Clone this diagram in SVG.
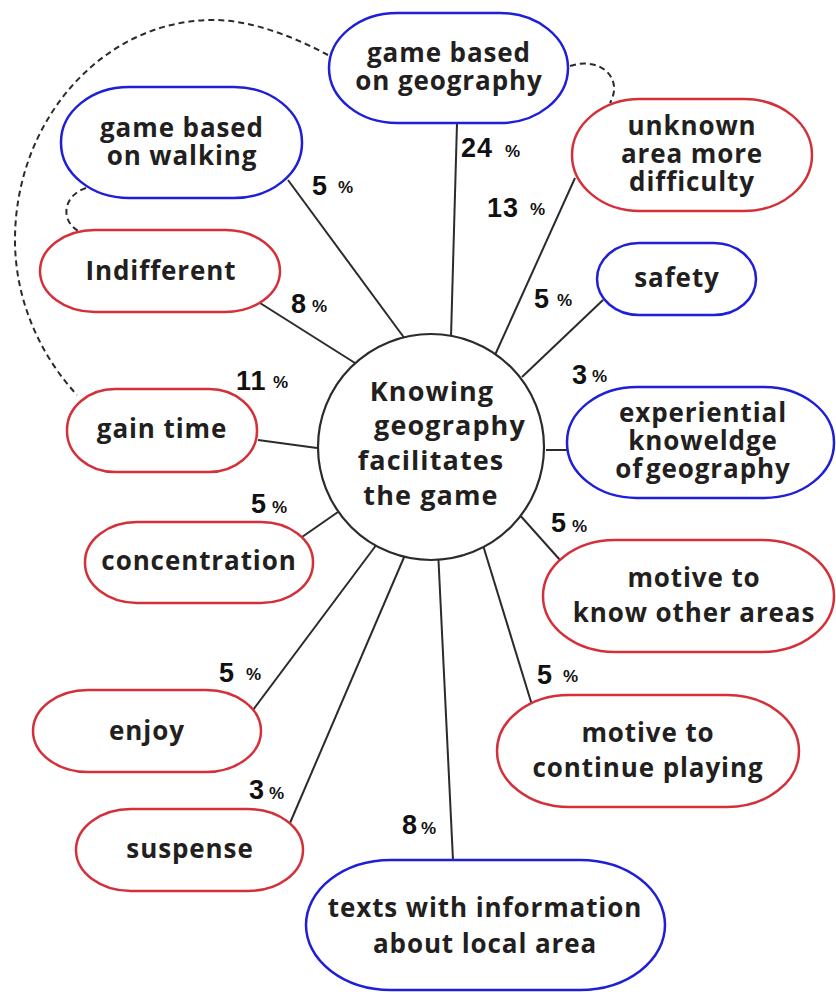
<svg xmlns="http://www.w3.org/2000/svg" width="836" height="992" viewBox="0 0 836 992">
<style>
.bg{fill:#ffffff}
.blue{fill:#ffffff;stroke:#1f1fd8;stroke-width:2.5}
.red{fill:#ffffff;stroke:#d3303a;stroke-width:2.5}
.hub{fill:#ffffff;stroke:#2b2b2b;stroke-width:2.2}
.t{font-family:"Open Sans","Noto Sans","Liberation Sans",sans-serif;font-weight:700;font-size:26px;letter-spacing:0.9px;fill:#231f20;text-anchor:middle}
.ht{font-family:"Open Sans","Noto Sans","Liberation Sans",sans-serif;font-weight:700;font-size:27px;letter-spacing:1.1px;fill:#231f20;text-anchor:middle}
.n{font-family:"Liberation Sans",Arial,sans-serif;font-weight:700;font-size:27px;fill:#111111;letter-spacing:1px}
.p{font-family:"Liberation Sans",Arial,sans-serif;font-weight:700;font-size:17px;fill:#111111}
.c{stroke:#2b2b2b;stroke-width:2;fill:none}
.d{stroke:#2b2b2b;stroke-width:2;fill:none;stroke-dasharray:6 4}
</style>
<rect class="bg" x="0" y="0" width="836" height="992"/>
<g id="connectors">
<line class="c" x1="457" y1="123" x2="451" y2="337"/>
<line class="c" x1="288" y1="180" x2="408" y2="343"/>
<line class="c" x1="260" y1="303" x2="355" y2="363"/>
<line class="c" x1="575" y1="178" x2="495" y2="355"/>
<line class="c" x1="603" y1="300" x2="522" y2="377"/>
<line class="c" x1="546" y1="450" x2="567" y2="450"/>
<line class="c" x1="518" y1="513" x2="560" y2="560"/>
<line class="c" x1="482" y1="542" x2="532" y2="705"/>
<line class="c" x1="438" y1="550" x2="453" y2="860"/>
<line class="c" x1="258" y1="440" x2="317" y2="448"/>
<line class="c" x1="302" y1="537" x2="338" y2="512"/>
<line class="c" x1="380" y1="540" x2="253" y2="710"/>
<line class="c" x1="408" y1="548" x2="290" y2="823"/>
<path class="d" d="M328,55 C300,40 255,20 213,20 C104,20 15,119 15,240 C15,300 40,355 77,395"/>
<path class="d" d="M86,188 C62,196 60,222 80,232"/>
<path class="d" d="M570,66 C600,56 624,78 610,103"/>
</g>
<g id="hub">
<circle class="hub" cx="431" cy="447" r="113"/>
<text class="ht" x="432" y="401">Knowing</text>
<text class="ht" x="450" y="435">geography</text>
<text class="ht" x="431" y="470">facilitates</text>
<text class="ht" x="431" y="505">the game</text>
</g>
<g id="node-geography">
<rect class="blue" x="329" y="13" width="239" height="110" rx="68" ry="55"/>
<text class="t" x="449" y="62">game based</text>
<text class="t" x="449" y="90">on geography</text>
</g>
<g id="node-walking">
<rect class="blue" x="61" y="87" width="241" height="111" rx="68" ry="55"/>
<text class="t" x="182" y="137">game based</text>
<text class="t" x="182" y="165">on walking</text>
</g>
<g id="node-indifferent">
<rect class="red" x="40" y="230" width="240" height="82" rx="55" ry="41"/>
<text class="t" x="161" y="280">Indifferent</text>
</g>
<g id="node-unknown">
<rect class="red" x="572" y="99" width="240" height="112" rx="68" ry="56"/>
<text class="t" x="692" y="135">unknown</text>
<text class="t" x="692" y="163">area more</text>
<text class="t" x="692" y="191">difficulty</text>
</g>
<g id="node-safety">
<rect class="blue" x="597" y="243" width="159" height="72" rx="42" ry="36"/>
<text class="t" x="677" y="287">safety</text>
</g>
<g id="node-gaintime">
<rect class="red" x="67" y="389" width="190" height="83" rx="48" ry="41"/>
<text class="t" x="162" y="438">gain time</text>
</g>
<g id="node-concentration">
<rect class="red" x="85" y="522" width="228" height="81" rx="52" ry="40"/>
<text class="t" x="199" y="570">concentration</text>
</g>
<g id="node-experiential">
<rect class="blue" x="567" y="387" width="267" height="111" rx="70" ry="55"/>
<text class="t" x="703" y="422">experiential</text>
<text class="t" x="703" y="450">knoweldge</text>
<text class="t" x="703" y="478" word-spacing="-5">of geography</text>
</g>
<g id="node-motive-know">
<rect class="red" x="543" y="540" width="291" height="112" rx="72" ry="56"/>
<text class="t" x="694" y="587">motive to</text>
<text class="t" x="694" y="622">know other areas</text>
</g>
<g id="node-motive-continue">
<rect class="red" x="497" y="695" width="302" height="112" rx="72" ry="56"/>
<text class="t" x="648" y="742">motive to</text>
<text class="t" x="648" y="777">continue playing</text>
</g>
<g id="node-texts">
<rect class="blue" x="306" y="860" width="359" height="130" rx="85" ry="65"/>
<text class="t" x="485" y="917">texts with information</text>
<text class="t" x="485" y="953">about local area</text>
</g>
<g id="node-enjoy">
<rect class="red" x="33" y="690" width="228" height="82" rx="55" ry="41"/>
<text class="t" x="147" y="740">enjoy</text>
</g>
<g id="node-suspense">
<rect class="red" x="76" y="809" width="227" height="82" rx="55" ry="41"/>
<text class="t" x="190" y="858">suspense</text>
</g>
<g id="labels">
<text class="n" x="461" y="157">24</text><text class="p" x="505" y="157">%</text>
<text class="n" x="312" y="195">5</text><text class="p" x="338" y="193">%</text>
<text class="n" x="487" y="217">13</text><text class="p" x="530" y="215">%</text>
<text class="n" x="291" y="313">8</text><text class="p" x="312" y="312">%</text>
<text class="n" x="534" y="308">5</text><text class="p" x="557" y="306">%</text>
<text class="n" x="236" y="390">11</text><text class="p" x="273" y="388">%</text>
<text class="n" x="572" y="384">3</text><text class="p" x="592" y="382">%</text>
<text class="n" x="251" y="513">5</text><text class="p" x="272" y="513">%</text>
<text class="n" x="551" y="532">5</text><text class="p" x="572" y="532">%</text>
<text class="n" x="219" y="682">5</text><text class="p" x="246" y="680">%</text>
<text class="n" x="537" y="684">5</text><text class="p" x="563" y="682">%</text>
<text class="n" x="249" y="799">3</text><text class="p" x="269" y="799">%</text>
<text class="n" x="402" y="834">8</text><text class="p" x="421" y="834">%</text>
</g>
</svg>
